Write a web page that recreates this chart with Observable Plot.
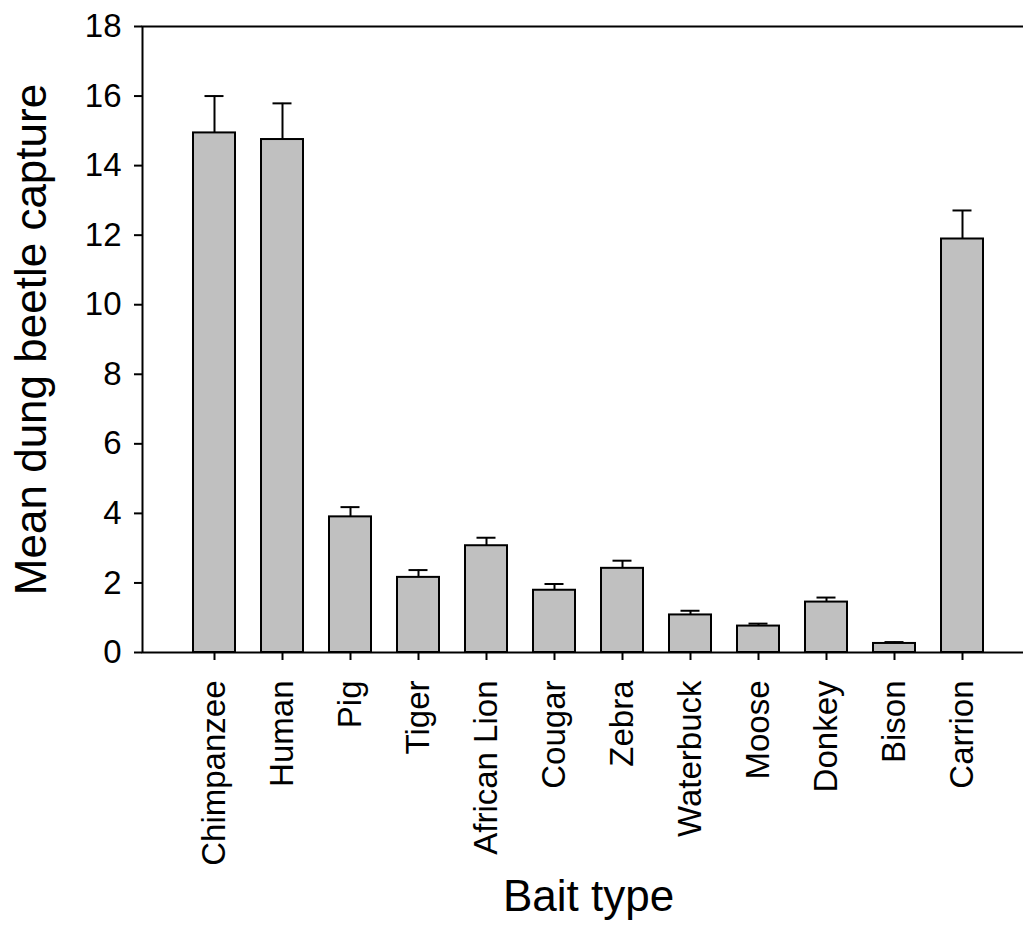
<!DOCTYPE html>
<html>
<head>
<meta charset="utf-8">
<script src="https://cdn.jsdelivr.net/npm/d3@7"></script>
<script src="https://cdn.jsdelivr.net/npm/@observablehq/plot@0.6"></script>
<style>
  html, body { margin: 0; padding: 0; background: #fff; }
  #chart svg { display: block; }
</style>
</head>
<body>
<div id="chart"></div>
<script>
const baits = ["Chimpanzee", "Human", "Pig", "Tiger", "African Lion", "Cougar", "Zebra", "Waterbuck", "Moose", "Donkey", "Bison", "Carrion"];
const means = [14.94, 14.75, 3.90, 2.16, 3.07, 1.79, 2.42, 1.08, 0.76, 1.45, 0.26, 11.89];
const errors = [1.06, 1.04, 0.28, 0.21, 0.23, 0.18, 0.22, 0.12, 0.07, 0.13, 0.04, 0.82];
const yTicks = [0, 2, 4, 6, 8, 10, 12, 14, 16, 18];
const yLabel = "Mean dung beetle capture";
const xLabel = "Bait type";

const data = baits.map((b, i) => ({bait: b, mean: means[i], top: means[i] + errors[i]}));

const plot = Plot.plot({
  width: 1023,
  height: 950,
  marginLeft: 142,
  marginRight: -11,
  marginTop: 26,
  marginBottom: 298,
  style: {fontFamily: "'Liberation Sans', Arial, sans-serif", color: "#000", background: "#fff"},
  x: {domain: baits, paddingInner: 0.388, paddingOuter: 0.7, label: null},
  y: {domain: [0, 18], label: null},
  marks: [
    Plot.frame({stroke: "#000", strokeWidth: 2}),
    Plot.ruleX(data, {x: "bait", y1: "mean", y2: "top", stroke: "#000", strokeWidth: 2}),
    Plot.tickY(data, {x: "bait", y: "top", stroke: "#000", strokeWidth: 2, insetLeft: 11.5, insetRight: 11.5}),
    Plot.barY(data, {x: "bait", y: "mean", fill: "#c0c0c0", stroke: "#000", strokeWidth: 2}),
    Plot.axisY({ticks: yTicks, tickSize: 8, tickPadding: 13, fontSize: 33, tickFormat: d => String(d), label: null, strokeWidth: 2}),
    Plot.axisX({tickSize: 8, tickPadding: 20, tickRotate: -90, fontSize: 33, label: null, strokeWidth: 2}),
    Plot.text([yLabel], {frameAnchor: "left", textAnchor: "middle", lineAnchor: "middle", rotate: -90, dx: -111, fontSize: 44, fill: "#000"}),
    Plot.text([xLabel], {frameAnchor: "bottom", textAnchor: "middle", dy: 258, dx: 0, fontSize: 44, fill: "#000"})
  ]
});
document.getElementById("chart").appendChild(plot);
</script>
</body>
</html>
